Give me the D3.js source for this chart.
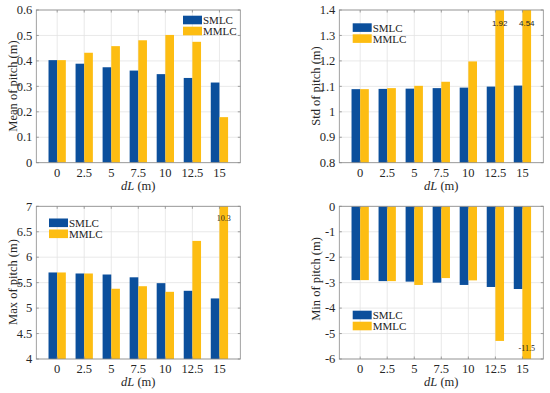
<!DOCTYPE html>
<html><head><meta charset="utf-8">
<script src="https://cdn.jsdelivr.net/npm/d3@7"></script>
<style>body{margin:0;background:#fff;} svg{display:block;}</style>
</head><body>
<svg id="c" width="550" height="393"></svg>
<script>
const dL = [0, 2.5, 5, 7.5, 10, 12.5, 15];
const xTickLabels = ["0", "2.5", "5", "7.5", "10", "12.5", "15"];
const seriesNames = ["SMLC", "MMLC"];

const meanSMLC = [0.403, 0.389, 0.375, 0.362, 0.348, 0.333, 0.315];
const meanMMLC = [0.403, 0.432, 0.458, 0.481, 0.502, 0.475, 0.179];
const meanTicks = [0, 0.1, 0.2, 0.3, 0.4, 0.5, 0.6];

const stdSMLC = [1.089, 1.090, 1.091, 1.093, 1.095, 1.099, 1.103];
const stdMMLC = [1.089, 1.093, 1.102, 1.118, 1.198, 1.92, 4.54];
const stdTicks = [0.8, 0.9, 1.0, 1.1, 1.2, 1.3, 1.4];
const stdTickLabels = ["0.8", "0.9", "1", "1.1", "1.2", "1.3", "1.4"];

const maxSMLC = [5.70, 5.68, 5.66, 5.605, 5.49, 5.34, 5.19];
const maxMMLC = [5.70, 5.68, 5.38, 5.43, 5.32, 6.32, 10.3];
const maxTicks = [4, 4.5, 5, 5.5, 6, 6.5, 7];

const minSMLC = [-2.90, -2.94, -2.96, -3.00, -3.09, -3.17, -3.25];
const minMMLC = [-2.90, -2.94, -3.09, -2.82, -2.91, -5.29, -11.5];
const minTicks = [-6, -5, -4, -3, -2, -1, 0];

const colors = ["#0b4f9c", "#fdbd12"];
const serif = "'Liberation Serif','Times New Roman',serif";

const panels = [
  {left: 36.3, top: 10, ylab: "Mean of pitch (m)", s: meanSMLC, m: meanMMLC, dom: [0, 0.6], ticks: meanTicks,
   tl: meanTicks.map(String), legend: [183, 15.7], notes: [], labY: 86},
  {left: 339.3, top: 10, ylab: "Std of pitch (m)", s: stdSMLC, m: stdMMLC, dom: [0.8, 1.4], ticks: stdTicks,
   tl: stdTickLabels, legend: [352.7, 23.3], notes: [{i: 5, t: "1.92", y: 25.5}, {i: 6, t: "4.54", y: 25.5}], labY: 86, noteFont: "sans"},
  {left: 36.3, top: 206.3, ylab: "Max of pitch (m)", s: maxSMLC, m: maxMMLC, dom: [4, 7], ticks: maxTicks,
   tl: maxTicks.map(String), legend: [49, 218.5], notes: [{i: 6, t: "10.3", y: 221}], labY: 282},
  {left: 339.3, top: 206.3, ylab: "Min of pitch (m)", s: minSMLC, m: minMMLC, dom: [-6, 0], ticks: minTicks,
   tl: minTicks.map(String), legend: [352.7, 310.7], notes: [{i: 6, t: "-11.5", y: 351}], labY: 279},
];
const W = 204, H = 152.7;

const svg = d3.select("#c");
const defs = svg.append("defs");

panels.forEach((p, pi) => {
  const x = d3.scaleLinear().domain([-1.93, 16.93]).range([p.left, p.left + W]);
  const y = d3.scaleLinear().domain(p.dom).range([p.top + H, p.top]);
  const bw = x(0.8) - x(0);
  const g = svg.append("g");

  g.selectAll(".gy").data(p.ticks).enter().append("line")
    .attr("x1", p.left).attr("x2", p.left + W)
    .attr("y1", d => y(d)).attr("y2", d => y(d))
    .attr("stroke", "#e3e3e3").attr("stroke-width", 0.8);
  g.selectAll(".gx").data(dL).enter().append("line")
    .attr("y1", p.top).attr("y2", p.top + H)
    .attr("x1", d => x(d)).attr("x2", d => x(d))
    .attr("stroke", "#e3e3e3").attr("stroke-width", 0.8);

  defs.append("clipPath").attr("id", "clip" + pi).append("rect")
    .attr("x", p.left).attr("y", p.top).attr("width", W).attr("height", H);
  const bars = g.append("g").attr("clip-path", `url(#clip${pi})`);
  const base = 0;
  [p.s, p.m].forEach((arr, si) => {
    bars.selectAll(".b" + si).data(arr).enter().append("rect")
      .attr("x", (d, i) => x(dL[i]) - (si === 0 ? bw : 0))
      .attr("width", bw)
      .attr("y", d => Math.min(y(d), y(base)))
      .attr("height", d => Math.abs(y(d) - y(base)))
      .attr("fill", colors[si]);
  });

  p.notes.forEach(n => {
    g.append("text").attr("x", x(dL[n.i]) + bw / 2).attr("y", n.y)
      .attr("text-anchor", "middle")
      .attr("font-family", p.noteFont === "sans" ? "'Liberation Sans',Arial,sans-serif" : serif)
      .attr("font-size", 8).attr("fill", "#222").text(n.t);
  });

  g.append("rect").attr("x", p.left).attr("y", p.top).attr("width", W).attr("height", H)
    .attr("fill", "none").attr("stroke", "#8a8a8a").attr("stroke-width", 0.8);

  const tl = 2.5;
  p.ticks.forEach(t => {
    g.append("line").attr("x1", p.left).attr("x2", p.left + tl).attr("y1", y(t)).attr("y2", y(t)).attr("stroke", "#8a8a8a").attr("stroke-width", 0.8);
    g.append("line").attr("x1", p.left + W).attr("x2", p.left + W - tl).attr("y1", y(t)).attr("y2", y(t)).attr("stroke", "#8a8a8a").attr("stroke-width", 0.8);
  });
  dL.forEach(t => {
    g.append("line").attr("y1", p.top + H).attr("y2", p.top + H - tl).attr("x1", x(t)).attr("x2", x(t)).attr("stroke", "#8a8a8a").attr("stroke-width", 0.8);
    g.append("line").attr("y1", p.top).attr("y2", p.top + tl).attr("x1", x(t)).attr("x2", x(t)).attr("stroke", "#8a8a8a").attr("stroke-width", 0.8);
  });

  g.selectAll(".yl").data(p.ticks).enter().append("text")
    .attr("x", p.left - 4).attr("y", d => y(d) + 4.2)
    .attr("text-anchor", "end").attr("font-family", serif).attr("font-size", 12.5).attr("fill", "#262626")
    .text((d, i) => p.tl[i]);
  g.selectAll(".xl").data(dL).enter().append("text")
    .attr("x", d => x(d)).attr("y", p.top + H + 14)
    .attr("text-anchor", "middle").attr("font-family", serif).attr("font-size", 12.5).attr("fill", "#262626")
    .text((d, i) => xTickLabels[i]);

  const xl = g.append("text").attr("x", p.left + W / 2).attr("y", p.top + H + 27)
    .attr("text-anchor", "middle").attr("font-family", serif).attr("font-size", 12.5).attr("fill", "#262626");
  xl.append("tspan").attr("font-style", "italic").text("dL");
  xl.append("tspan").text(" (m)");
  g.append("text").attr("transform", `translate(${p.left - 19},${p.labY}) rotate(-90)`)
    .attr("text-anchor", "middle").attr("font-family", serif).attr("font-size", 12.5).attr("fill", "#262626")
    .text(p.ylab);

  seriesNames.forEach((nm, si) => {
    const lx = p.legend[0], ly = p.legend[1] + si * 11;
    g.append("rect").attr("x", lx).attr("y", ly).attr("width", 19).attr("height", 8.6).attr("fill", colors[si]);
    g.append("text").attr("x", lx + 20).attr("y", ly + 8.3).attr("font-family", serif).attr("font-size", 11)
      .attr("fill", "#222").text(nm);
  });
});
</script>
</body></html>
